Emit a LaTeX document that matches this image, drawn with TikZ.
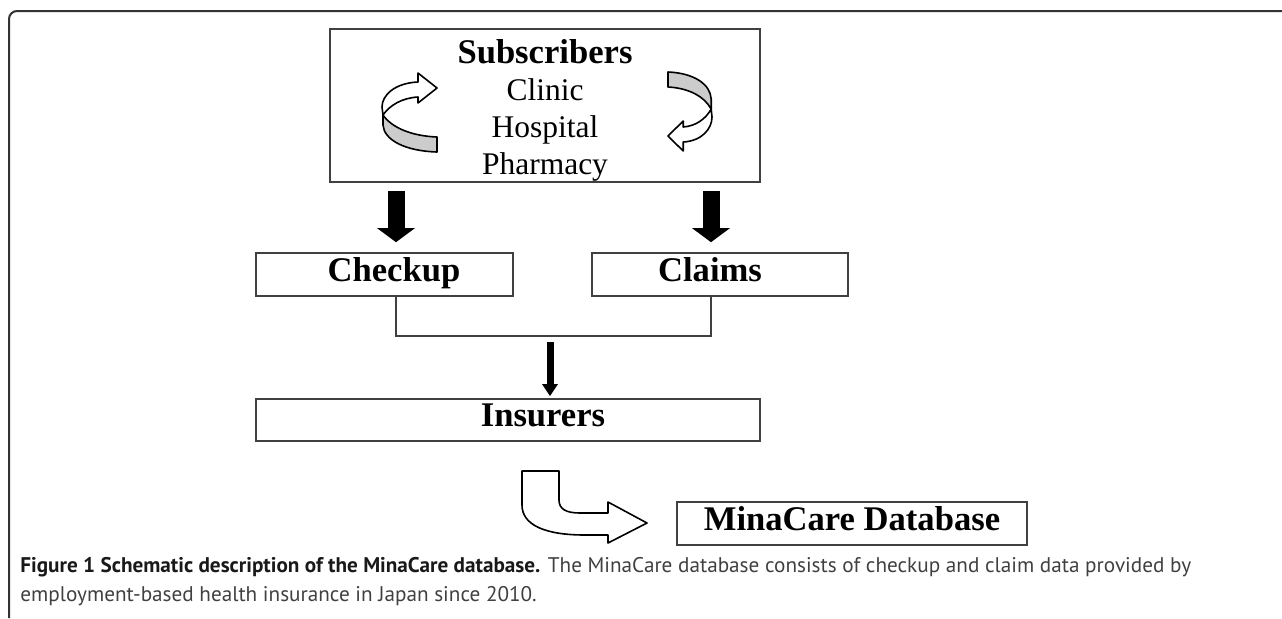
\documentclass[tikz,border=0pt]{standalone}
\usepackage{fontspec}
\setmainfont{Liberation Serif}
\newfontfamily\capfont{PT Sans}
\usetikzlibrary{arrows.meta}

\newlength{\du}
\setlength{\du}{0.5pt}

\definecolor{framecolor}{rgb}{0.20,0.20,0.20}
\definecolor{boxcolor}{rgb}{0.25,0.25,0.25}
\definecolor{ribbongray}{rgb}{0.80,0.80,0.80}

\tikzset{
  box/.style={draw=boxcolor, line width=1.6\du, inner sep=0pt,
    font=\bfseries\fontsize{17.3pt}{20pt}\selectfont,
    text height=0.66em, text depth=0pt},
  link/.style={draw=boxcolor, line width=1.6\du},
  fatarrow/.style={-{Triangle[width=18.5pt,length=7pt]}, line width=17\du},
  thinarrow/.style={-{Triangle[width=7.5pt,length=6pt]}, line width=7\du},
  outline/.style={draw=black, line width=1.6\du, line join=round},
  % ribbon arrow, centred on its own middle
  twistarrow/.pic={
    \filldraw[outline, fill=white]
      (8.5\du,-31\du) .. controls (-14.5\du,-30\du) and (-27.5\du,-18\du) .. (-27.5\du,-6\du)
      -- (-26.5\du,2\du) .. controls (-19.5\du,-8\du) and (-7.5\du,-15\du) .. (8.5\du,-16\du)
      -- (8.5\du,-10\du) -- (27.5\du,-25\du) -- (8.5\du,-40\du) -- cycle;
    \filldraw[outline, fill=ribbongray]
      (-26.5\du,2\du) .. controls (-17.5\du,15\du) and (2.5\du,23\du) .. (27.5\du,24\du)
      -- (27.5\du,39\du) .. controls (-4.5\du,38\du) and (-25.5\du,27\du) .. (-26.5\du,12\du)
      -- cycle;
  }
}

\begin{document}
\begin{tikzpicture}[yscale=-1]
\useasboundingbox (0,0) rectangle (1282\du,618\du);

% outer frame
\draw[framecolor, line width=2\du, rounded corners=8\du]
  (9\du,618\du) -- (9\du,11\du) -- (1282\du,11\du);

% columns of the connectors
\coordinate (leftcol) at (396\du,0);
\coordinate (rightcol) at (711\du,0);
\coordinate (joint) at (550\du,336\du);

% subscribers
\node[draw=boxcolor, line width=1.6\du, minimum width=430\du, minimum height=153\du, inner sep=0pt]
  (subs) at (545\du,105.5\du) {};
\node[align=center, font=\fontsize{15.75pt}{18.5pt}\selectfont] (subslist) at (545\du,110\du)
  {{\bfseries\fontsize{17.3pt}{18.5pt}\selectfont Subscribers}\\Clinic\\Hospital\\Pharmacy};
\pic[yscale=-1] at (409.5\du,113\du) {twistarrow};
\pic[yscale=-1, rotate=180, xscale=0.8] at (690\du,111\du) {twistarrow};

% data
\node[box, minimum width=257\du, minimum height=43\du] (checkup) at (384.5\du,274.5\du) {\hspace*{19\du}Checkup};
\node[box, minimum width=256\du, minimum height=43\du] (claims) at (720\du,274.5\du) {Claims\hspace*{20\du}};
\node[box, minimum width=504\du, minimum height=42\du] (insurers) at (508\du,420\du) {\hspace*{70\du}Insurers};
\node[box, minimum width=350\du, minimum height=43\du] (minacare) at (852\du,523.5\du) {MinaCare Database};

\draw[fatarrow, shorten <=8\du, shorten >=10\du] (subs.south -| leftcol) -- (checkup.north -| leftcol);
\draw[fatarrow, shorten <=8\du, shorten >=10\du] (subs.south -| rightcol) -- (claims.north -| rightcol);
\draw[link] (checkup.south -| leftcol) |- (joint) -| (claims.south -| rightcol);
\draw[thinarrow, shorten <=6\du, shorten >=2\du] (joint) -- (insurers.north -| joint);

% bent arrow into the database
\filldraw[outline, fill=white]
  (522\du,471\du) -- (559\du,471\du) -- (559\du,500\du)
  .. controls (559\du,509\du) and (566\du,513\du) .. (580\du,513\du)
  -- (608\du,513\du) -- (608\du,502\du) -- (647\du,523\du) -- (608\du,543\du)
  -- (608\du,535\du) -- (585\du,535\du)
  .. controls (545\du,535\du) and (522\du,525\du) .. (522\du,505\du) -- cycle;

% caption
\node[anchor=base west, align=left, inner sep=0pt, text=black!75,
  font=\capfont\fontsize{10.6pt}{14.5pt}\selectfont] (caption) at (20\du,601\du)
  {{\bfseries\color{black!90}Figure 1 Schematic description of the MinaCare database.} The MinaCare database consists of checkup and claim data provided by\\employment-based health insurance in Japan since 2010.};
\end{tikzpicture}
\end{document}
